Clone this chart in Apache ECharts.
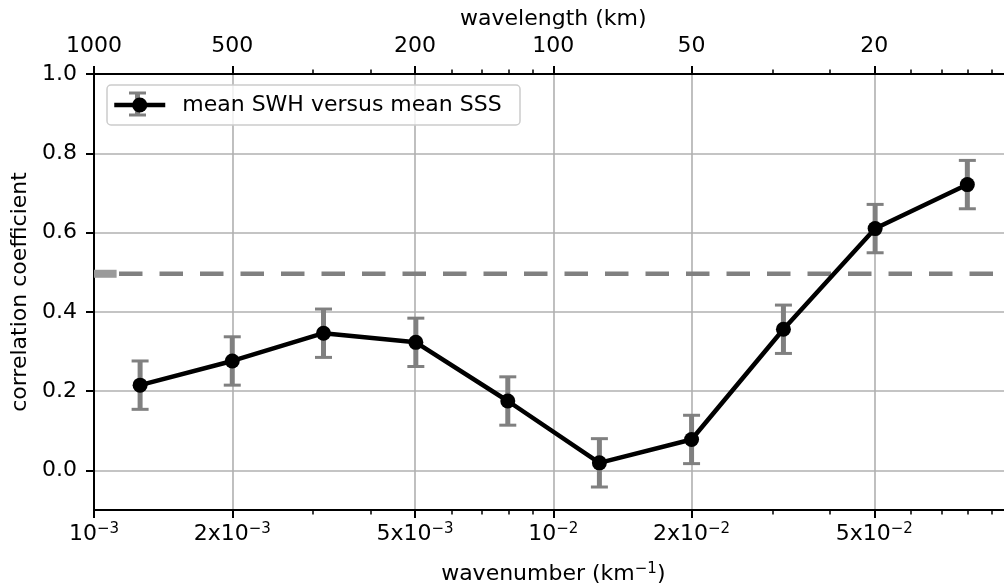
<!DOCTYPE html>
<html>
<head>
<meta charset="utf-8">
<title>Correlation spectrum</title>
<script src="https://cdn.jsdelivr.net/npm/echarts@6/dist/echarts.min.js"></script>
<style>
  html, body { margin: 0; padding: 0; background: #fff; }
  #chart { width: 1004px; height: 588px; }
</style>
</head>
<body>
<div id="chart"></div>
<script>
// Wavenumber bins (km^-1) and the correlation at each bin
const wavenumber = [0.00126, 0.002, 0.00316, 0.00502, 0.00796, 0.0126, 0.02, 0.0317, 0.0502, 0.0797];
const correlation = [0.215, 0.276, 0.346, 0.323, 0.175, 0.019, 0.078, 0.356, 0.610, 0.721];
const correlationError = [0.061, 0.061, 0.061, 0.061, 0.061, 0.061, 0.061, 0.061, 0.061, 0.061];

// Reference level drawn as a dashed horizontal line
const levelX = [0.001, 0.1];
const levelValue = 0.496;
const levelStubX = [0.001, 0.00112];

// Axis ticks
const wavenumberTicks = [0.001, 0.002, 0.005, 0.01, 0.02, 0.05];
const wavenumberLabelBase = ['10', '2x10', '5x10', '10', '2x10', '5x10'];
const wavenumberLabelExp = ['\u22123', '\u22123', '\u22123', '\u22122', '\u22122', '\u22122'];
const minorTicks = [0.003, 0.004, 0.006, 0.007, 0.008, 0.009, 0.03, 0.04, 0.06, 0.07, 0.08, 0.09];
const wavelengthTicks = [1000, 500, 200, 100, 50, 20];
const yTicks = [0.0, 0.2, 0.4, 0.6, 0.8, 1.0];

const FONT = 'DejaVu Sans';
const GRID_COLOR = '#b0b0b0';
const ERR_COLOR = '#808080';

function nearestIndex(arr, v) {
  let best = 0, bestD = Infinity;
  arr.forEach((a, i) => {
    const d = Math.abs(Math.log(a) - Math.log(v));
    if (d < bestD) { bestD = d; best = i; }
  });
  return best;
}

const supRich = {
  m: { fontSize: 22, fontFamily: FONT, color: '#000', lineHeight: 24 },
  s: { fontSize: 15, fontFamily: FONT, color: '#000', verticalAlign: 'top', lineHeight: 15 }
};

const X_MIN = 0.001, X_MAX = 0.1;

function baseLogAxis(position) {
  return {
    type: 'log',
    logBase: 10,
    position: position,
    min: X_MIN,
    max: X_MAX,
    axisLine: { show: true, onZero: false, lineStyle: { color: '#000', width: 2 } },
    splitLine: { show: false },
    minorTick: { show: false },
    minorSplitLine: { show: false }
  };
}

const wavelengthTickValues = wavelengthTicks.map(l => 1 / l);

const xAxes = [
  // bottom: wavenumber, major ticks + labels + vertical grid
  Object.assign(baseLogAxis('bottom'), {
    name: '{m|wavenumber (km}{s|\u22121}{m|)}',
    nameLocation: 'middle',
    nameGap: 52,
    nameTextStyle: { rich: supRich },
    axisTick: { show: true, customValues: wavenumberTicks, length: 8, lineStyle: { color: '#000', width: 2 } },
    axisLabel: {
      show: true,
      customValues: wavenumberTicks,
      margin: 12,
      formatter: function (v) {
        const i = nearestIndex(wavenumberTicks, v);
        return '{m|' + wavenumberLabelBase[i] + '}{s|' + wavenumberLabelExp[i] + '}';
      },
      rich: supRich
    },
    splitLine: { show: true, lineStyle: { color: GRID_COLOR, width: 1.6 } }
  }),
  // bottom: minor ticks
  Object.assign(baseLogAxis('bottom'), {
    axisLine: { show: false, onZero: false },
    axisTick: { show: true, customValues: minorTicks, length: 4.5, lineStyle: { color: '#000', width: 1.5 } },
    axisLabel: { show: false }
  }),
  // top: wavelength, major ticks + labels
  Object.assign(baseLogAxis('top'), {
    name: 'wavelength (km)',
    nameLocation: 'middle',
    nameGap: 44,
    nameTextStyle: { fontSize: 22, fontFamily: FONT, color: '#000' },
    axisTick: { show: true, customValues: wavelengthTickValues, length: 8, lineStyle: { color: '#000', width: 2 } },
    axisLabel: {
      show: true,
      customValues: wavelengthTickValues,
      margin: 17,
      fontSize: 22,
      fontFamily: FONT,
      color: '#000',
      formatter: function (v) {
        return String(wavelengthTicks[nearestIndex(wavelengthTickValues, v)]);
      }
    }
  }),
  // top: minor ticks
  Object.assign(baseLogAxis('top'), {
    axisLine: { show: false, onZero: false },
    axisTick: { show: true, customValues: minorTicks, length: 4.5, lineStyle: { color: '#000', width: 1.5 } },
    axisLabel: { show: false }
  })
];

const option = {
  animation: false,
  backgroundColor: '#fff',
  textStyle: { fontFamily: FONT },
  grid: { left: 94, top: 74, width: 918.6, height: 436, outerBoundsMode: 'none', containLabel: false },
  xAxis: xAxes,
  yAxis: {
    type: 'value',
    position: 'left',
    min: -0.1,
    max: 1.0,
    name: 'correlation coefficient',
    nameLocation: 'middle',
    nameGap: 57,
    nameTextStyle: { fontSize: 22, fontFamily: FONT, color: '#000' },
    axisLine: { show: true, onZero: false, lineStyle: { color: '#000', width: 2 } },
    axisTick: { show: true, customValues: yTicks, length: 8, lineStyle: { color: '#000', width: 2 } },
    axisLabel: {
      show: true,
      customValues: yTicks,
      margin: 17,
      fontSize: 22,
      fontFamily: FONT,
      color: '#000',
      formatter: v => v.toFixed(1)
    },
    splitLine: { show: true, lineStyle: { color: GRID_COLOR, width: 1.6 } }
  },
  legend: {
    show: true,
    data: ['mean SWH versus mean SSS'],
    left: 112,
    top: 94,
    padding: 0,
    itemWidth: 51,
    itemHeight: 19,
    backgroundColor: 'transparent',
    borderWidth: 0,
    z: 10,
    lineStyle: { width: 4.5, color: '#000' },
    textStyle: { fontSize: 22, fontFamily: FONT, color: '#000', padding: [0, 0, 0, 12] }
  },
  graphic: [
    {
      type: 'rect', z: 4,
      shape: { x: 107, y: 85, width: 413, height: 40, r: 4 },
      style: { fill: 'rgba(255,255,255,0.8)', stroke: '#cccccc', lineWidth: 1.5 }
    },
    // legend error bar glyph, sits beneath the legend marker
    { type: 'line', z: 6, shape: { x1: 137.5, y1: 93, x2: 137.5, y2: 115 }, style: { stroke: ERR_COLOR, lineWidth: 5 } },
    { type: 'line', z: 6, shape: { x1: 129, y1: 93, x2: 146, y2: 93 }, style: { stroke: ERR_COLOR, lineWidth: 3 } },
    { type: 'line', z: 6, shape: { x1: 129, y1: 115, x2: 146, y2: 115 }, style: { stroke: ERR_COLOR, lineWidth: 3 } }
  ],
  series: [
    {
      name: 'level',
      type: 'line',
      xAxisIndex: 0,
      data: levelX.map(x => [x, levelValue]),
      symbol: 'none',
      silent: true,
      z: 1,
      lineStyle: { color: ERR_COLOR, width: 4.5, type: [23.5, 17], dashOffset: 15.5 }
    },
    {
      name: 'level stub',
      type: 'line',
      xAxisIndex: 0,
      data: levelStubX.map(x => [x, levelValue]),
      symbol: 'none',
      silent: true,
      z: 1,
      lineStyle: { color: '#9a9a9a', width: 8 }
    },
    {
      name: 'error',
      type: 'custom',
      xAxisIndex: 0,
      z: 2,
      data: wavenumber.map((k, i) => [k, correlation[i], correlationError[i]]),
      encode: { x: 0, y: 1 },
      renderItem: function (params, api) {
        const x = api.value(0), y = api.value(1), e = api.value(2);
        const top = api.coord([x, y + e]);
        const bot = api.coord([x, y - e]);
        const cap = 8.5;
        const st = { stroke: ERR_COLOR, lineWidth: 5 };
        const cs = { stroke: ERR_COLOR, lineWidth: 3 };
        return {
          type: 'group',
          children: [
            { type: 'line', shape: { x1: top[0], y1: top[1], x2: bot[0], y2: bot[1] }, style: st },
            { type: 'line', shape: { x1: top[0] - cap, y1: top[1], x2: top[0] + cap, y2: top[1] }, style: cs },
            { type: 'line', shape: { x1: bot[0] - cap, y1: bot[1], x2: bot[0] + cap, y2: bot[1] }, style: cs }
          ]
        };
      }
    },
    {
      name: 'mean SWH versus mean SSS',
      type: 'line',
      xAxisIndex: 0,
      z: 3,
      data: wavenumber.map((k, i) => [k, correlation[i]]),
      symbol: 'circle',
      symbolSize: 15,
      showAllSymbol: true,
      color: '#000',
      itemStyle: { color: '#000' },
      lineStyle: { color: '#000', width: 4.5 }
    }
  ]
};

const chart = echarts.init(document.getElementById('chart'), null, { renderer: 'canvas' });
chart.setOption(option);
</script>
</body>
</html>
